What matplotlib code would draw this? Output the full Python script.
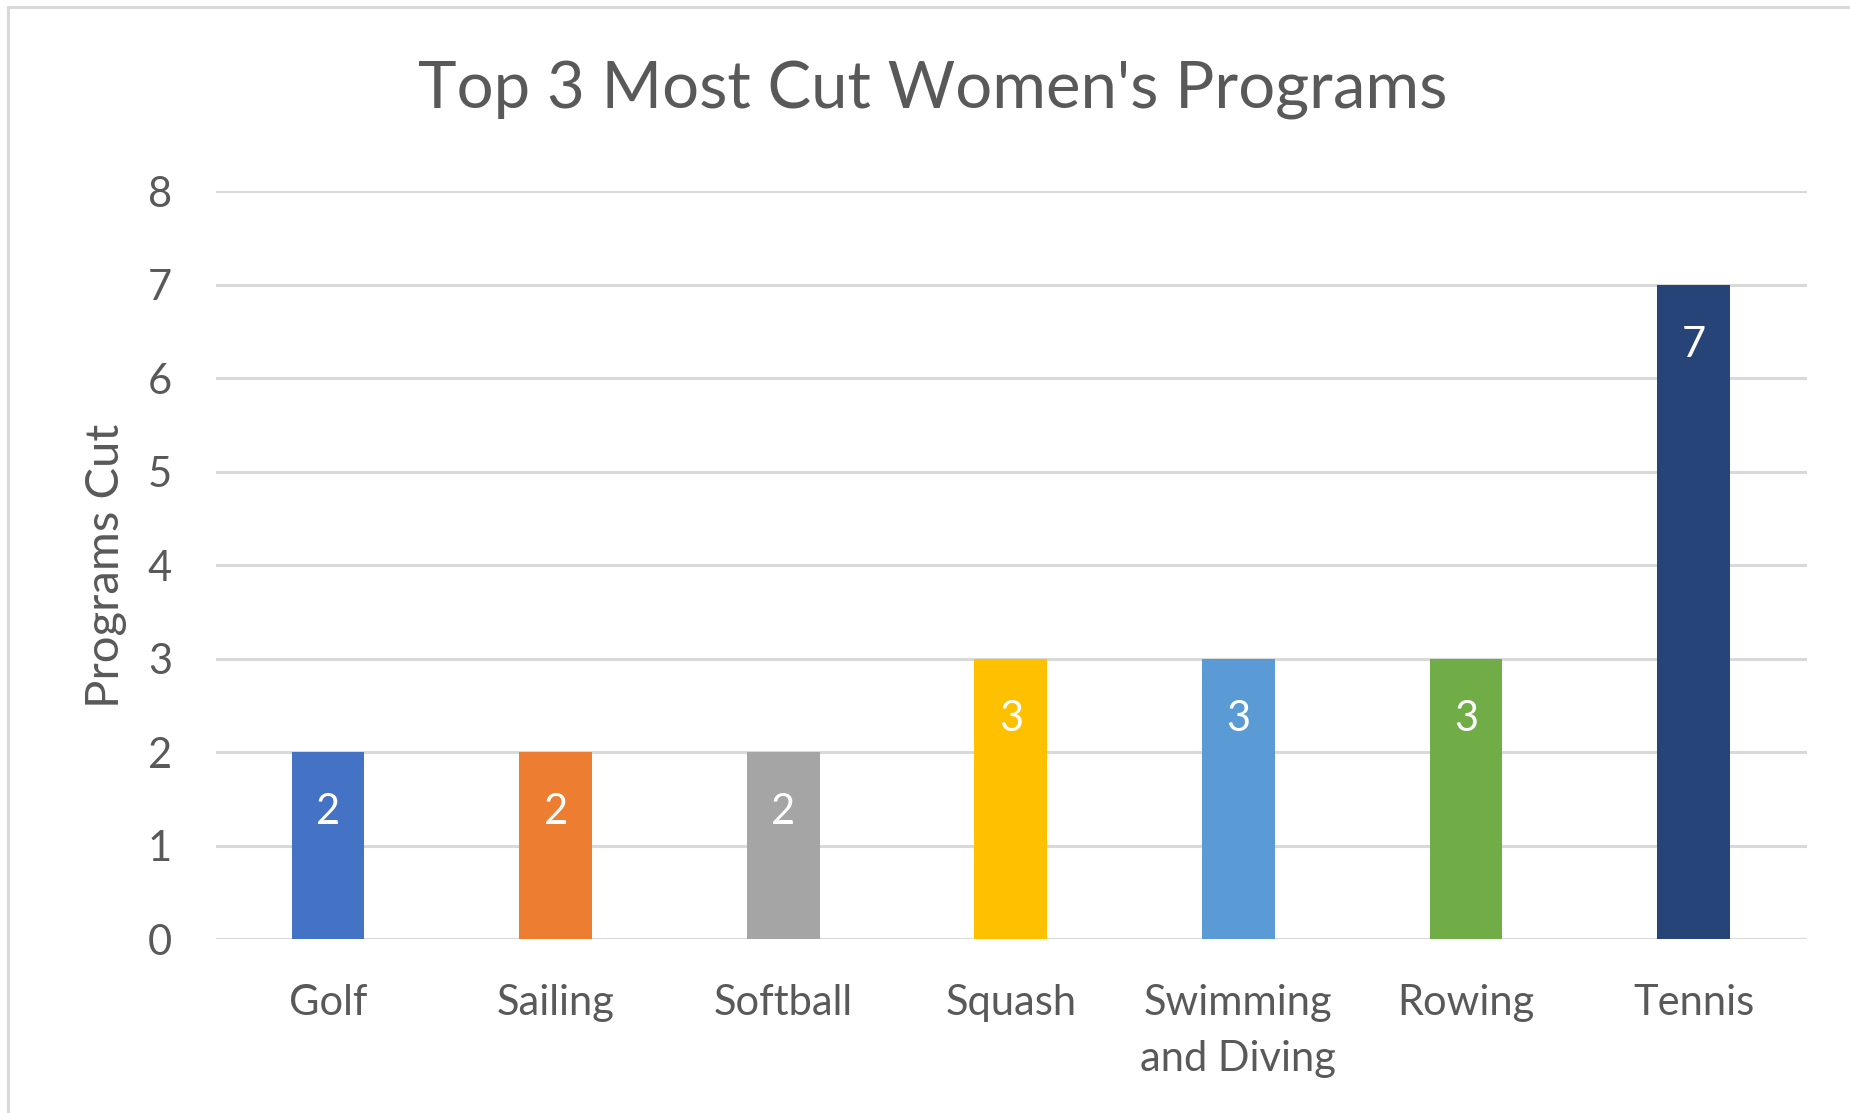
import matplotlib
matplotlib.use('Agg')
import matplotlib.pyplot as plt
from matplotlib.lines import Line2D

COLOR_TEXTO = '#595959'
COLOR_GRID = '#d9d9d9'

categorias = ['Golf', 'Sailing', 'Softball', 'Squash', 'Swimming\nand Diving', 'Rowing', 'Tennis']
programas_cortados = [2, 2, 2, 3, 3, 3, 7]
colores = ['#4472c4', '#ed7d31', '#a5a5a5', '#ffc000', '#5b9bd5', '#70ad47', '#264478']
ticks_y = [0, 1, 2, 3, 4, 5, 6, 7, 8]

plt.rcParams['font.family'] = ['Lato', 'DejaVu Sans']

fig = plt.figure(figsize=(18.5, 11.13), dpi=100)
ax = fig.add_axes([0.117, 0.156, 0.86, 0.672])

x = list(range(len(categorias)))
bars = ax.bar(x, programas_cortados, width=0.32, color=colores, zorder=3)

ax.set_xlim(-0.49, len(categorias) - 0.5)
ax.set_ylim(0, 8)
ax.set_yticks(ticks_y)
ax.set_xticks(x)
ax.set_xticklabels(categorias, linespacing=1.58)

# Solo lineas horizontales de la grilla
ax.grid(axis='y', color=COLOR_GRID, linewidth=2.2, zorder=0)
for s in ax.spines.values():
    s.set_visible(False)

ax.tick_params(axis='y', length=0, pad=32, labelsize=30, colors=COLOR_TEXTO)
ax.tick_params(axis='x', length=0, pad=32, labelsize=30, colors=COLOR_TEXTO)

ax.set_ylabel('Programs Cut', fontsize=34, color=COLOR_TEXTO)
ax.yaxis.set_label_coords(-0.056, 0.5)

# Etiquetas de datos dentro de la barra
for bar, v in zip(bars, programas_cortados):
    ax.annotate(str(v), (bar.get_x() + bar.get_width() / 2, v),
                xytext=(0, -43), textcoords='offset points',
                ha='center', va='center', color='white', fontsize=30)

fig.text(0.504, 0.919, "Top 3 Most Cut Women's Programs", ha='center', va='center',
         fontsize=47, color=COLOR_TEXTO)

# Borde del area del grafico (solo visible arriba e izquierda)
fig.add_artist(Line2D([0.0045, 0.0045], [0, 0.9935], transform=fig.transFigure,
                      color=COLOR_GRID, linewidth=2.2))
fig.add_artist(Line2D([0.0045, 1], [0.9935, 0.9935], transform=fig.transFigure,
                      color=COLOR_GRID, linewidth=2.2))

fig.savefig('out.png', dpi=100, facecolor='white')
